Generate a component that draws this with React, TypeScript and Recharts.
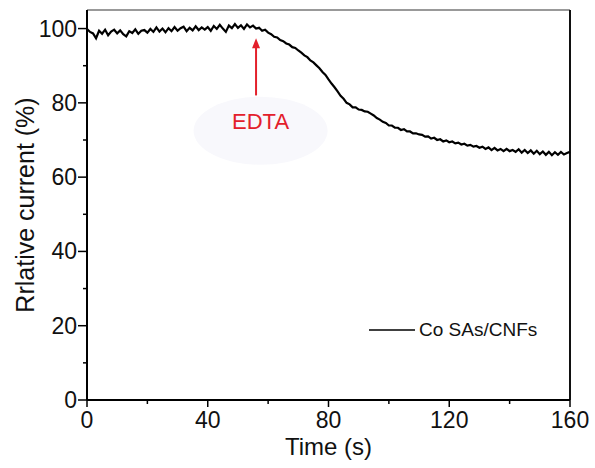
import React from "react";
import {
  LineChart,
  Line,
  XAxis,
  YAxis,
  ReferenceLine,
  ReferenceDot,
  Legend,
} from "recharts";

// time axis (s) and relative current axis (%)
const timeTicks = [0, 20, 40, 60, 80, 100, 120, 140, 160];
const currentTicks = [0, 10, 20, 30, 40, 50, 60, 70, 80, 90, 100];
const seriesName = "Co SAs/CNFs";
const sampleStep = 1; // one reading per second

const relativeCurrent = [
  99.9, 99.1, 98.7, 97.4, 99.4, 98.6, 99.7, 98.2, 99.2, 99.7,
  98.7, 99.5, 98.5, 97.9, 99.3, 98.8, 99.8, 98.6, 99.4, 99.6,
  98.9, 99.9, 99.1, 100.3, 99.2, 100.0, 99.0, 100.1, 99.3, 100.4,
  99.4, 100.1, 100.5, 99.3, 100.2, 99.5, 100.6, 99.6, 100.3, 99.7,
  100.4, 99.4, 100.7, 99.9, 101.0, 100.0, 99.1, 100.8, 100.1, 101.2,
  100.2, 100.9, 99.9, 101.1, 100.3, 100.8, 100.0, 100.2, 99.4, 99.7,
  98.9, 98.5, 97.8, 97.6, 96.9, 96.6, 96.0, 95.7, 95.0, 94.8,
  94.1, 93.5, 92.8, 92.3, 91.4, 90.9, 90.1, 89.3, 88.3, 87.5,
  86.3, 85.2, 84.2, 83.1, 81.9, 81.1, 80.0, 79.6, 78.8, 78.8,
  78.2, 78.1, 77.7, 77.6, 77.1, 76.6, 75.9, 75.5, 74.9, 74.6,
  73.9, 73.9, 73.3, 73.3, 72.7, 72.9, 72.3, 72.3, 71.8, 71.8,
  71.5, 71.4, 70.9, 71.0, 70.4, 70.6, 70.0, 70.2, 69.6, 69.9,
  69.4, 69.6, 69.1, 69.3, 68.8, 69.0, 68.5, 68.7, 68.2, 68.4,
  67.9, 68.2, 67.6, 68.0, 67.3, 67.9, 67.2, 67.6, 67.0, 67.6,
  67.0, 67.3, 66.8, 67.5, 66.6, 67.3, 66.5, 67.2, 66.3, 67.1,
  66.2, 66.9, 66.0, 66.8, 65.9, 66.7, 66.0, 66.8, 66.1, 66.5, 66.8,
];

// EDTA injection annotation
const edtaLabel = "EDTA";
const edtaTime = 56;
const arrowFrom = 82;
const arrowTip = 97.4;
const labelPos = { x: 57.5, y: 75 };
const haloPos = { x: 57.5, y: 72.5 };

const FONT = "'Liberation Sans', Arial, sans-serif";
const RED = "#e3202b";

const chartData = relativeCurrent.map((v, i) => ({
  time: i * sampleStep,
  current: v,
}));

const XTick = ({ x, y, payload }: any) => {
  const major = payload.value % 40 === 0;
  return (
    <g>
      <line x1={x} y1={y} x2={x} y2={y + (major ? 7 : 4)} stroke="#000" strokeWidth={1.5} />
      {major && (
        <text x={x} y={y + 28} textAnchor="middle" fontSize={23} fill="#111" fontFamily={FONT}>
          {payload.value}
        </text>
      )}
    </g>
  );
};

const YTick = ({ x, y, payload }: any) => {
  const major = payload.value % 20 === 0;
  return (
    <g>
      <line x1={x - (major ? 9 : 4)} y1={y} x2={x} y2={y} stroke="#000" strokeWidth={1.5} />
      {major && (
        <text x={x - 10} y={y + 8} textAnchor="end" fontSize={23} fill="#111" fontFamily={FONT}>
          {payload.value}
        </text>
      )}
    </g>
  );
};

const LegendBox = () => (
  <div style={{ display: "flex", alignItems: "center", fontFamily: FONT }}>
    <svg width={46} height={24}>
      <line x1={0} y1={12} x2={46} y2={12} stroke="#000" strokeWidth={1.5} />
    </svg>
    <span style={{ fontSize: 19, marginLeft: 4, lineHeight: "24px", color: "#111" }}>{seriesName}</span>
  </div>
);

export default function App() {
  return (
    <div style={{ position: "absolute", left: 0, top: 0, width: 595, height: 468, background: "#fff" }}>
      <LineChart
        width={595}
        height={468}
        data={chartData}
        margin={{ top: 10, right: 25, left: 0, bottom: 0 }}
        style={{ fontFamily: FONT }}
      >
        <ReferenceDot
          x={haloPos.x}
          y={haloPos.y}
          ifOverflow="visible"
          shape={(p: any) => <ellipse cx={p.cx} cy={p.cy} rx={67} ry={34} fill="#f8f8fc" />}
        />
        <XAxis
          dataKey="time"
          type="number"
          domain={[0, 160]}
          ticks={timeTicks}
          interval={0}
          height={68}
          tickSize={0}
          tickMargin={0}
          tickLine={false}
          tick={<XTick />}
          axisLine={{ stroke: "#000", strokeWidth: 2 }}
          label={{ value: "Time (s)", position: "insideBottom", offset: 13, fontSize: 24, fill: "#111" }}
        />
        <YAxis
          type="number"
          domain={[0, 105]}
          ticks={currentTicks}
          interval={0}
          width={87}
          tickSize={0}
          tickMargin={0}
          tickLine={false}
          tick={<YTick />}
          axisLine={{ stroke: "#000", strokeWidth: 2 }}
          label={{
            value: "Rrlative current (%)",
            angle: -90,
            position: "insideLeft",
            offset: 25,
            fontSize: 25,
            fill: "#111",
            style: { textAnchor: "middle" },
          }}
        />
        <ReferenceLine y={105} stroke="#777" strokeWidth={1.5} ifOverflow="visible" />
        <ReferenceLine x={160} stroke="#111" strokeWidth={2} ifOverflow="visible" />
        <ReferenceLine
          segment={[
            { x: edtaTime, y: arrowFrom },
            { x: edtaTime, y: arrowTip - 2.5 },
          ]}
          stroke={RED}
          strokeWidth={2}
        />
        <ReferenceDot
          x={edtaTime}
          y={arrowTip}
          shape={(p: any) => (
            <path d={`M${p.cx},${p.cy} L${p.cx - 4},${p.cy + 10} L${p.cx + 4},${p.cy + 10} Z`} fill={RED} />
          )}
        />
        <ReferenceDot
          x={labelPos.x}
          y={labelPos.y}
          shape={(p: any) => (
            <text x={p.cx} y={p.cy + 8} textAnchor="middle" fontSize={22} fill={RED} fontFamily={FONT}>
              {edtaLabel}
            </text>
          )}
        />
        <Line
          type="linear"
          dataKey="current"
          name={seriesName}
          stroke="#000"
          strokeWidth={2.2}
          dot={false}
          isAnimationActive={false}
        />
        <Legend
          layout="vertical"
          align="center"
          verticalAlign="middle"
          content={<LegendBox />}
          wrapperStyle={{ top: 318, left: 369, width: "auto" }}
        />
      </LineChart>
    </div>
  );
}
